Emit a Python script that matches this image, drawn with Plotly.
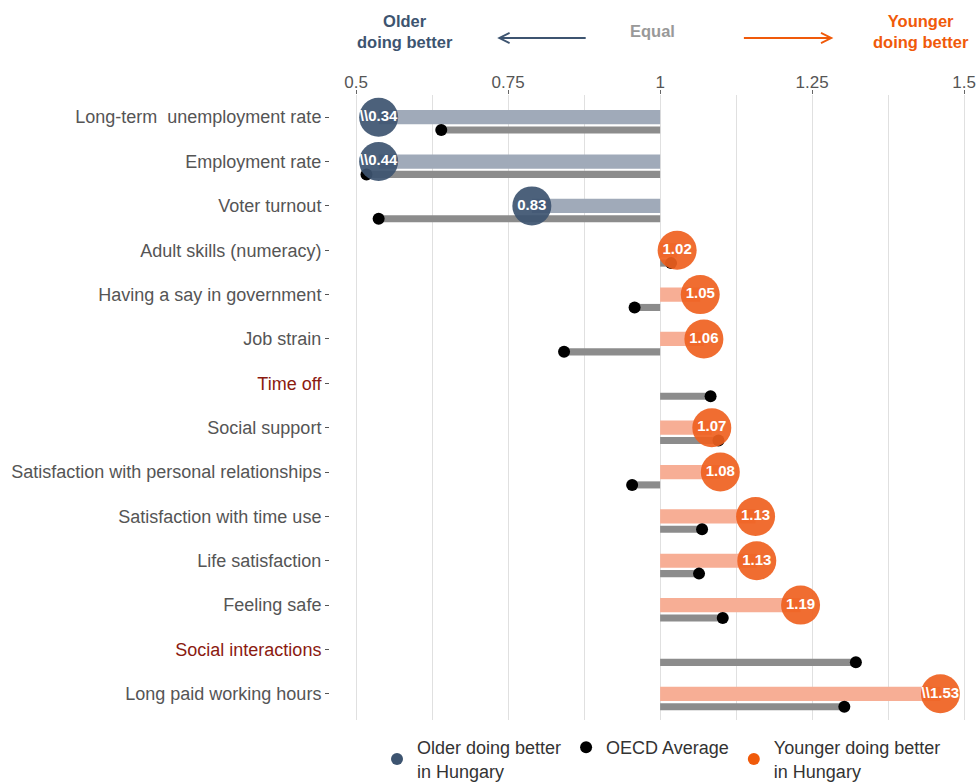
import plotly.graph_objects as go

categories = ["Long-term  unemployment rate", "Employment rate", "Voter turnout",
              "Adult skills (numeracy)", "Having a say in government", "Job strain",
              "Time off", "Social support", "Satisfaction with personal relationships",
              "Satisfaction with time use", "Life satisfaction", "Feeling safe",
              "Social interactions", "Long paid working hours"]
highlight = ["Time off", "Social interactions"]
hungary_pos = [0.537, 0.537, 0.789, 1.028, 1.066, 1.072, None, 1.085, 1.099,
               1.157, 1.159, 1.231, None, 1.461]
hungary_label = ["\\\\0.34", "\\\\0.44", "0.83", "1.02", "1.05", "1.06", "", "1.07",
                 "1.08", "1.13", "1.13", "1.19", "", "\\\\1.53"]
oecd = [0.640, 0.517, 0.537, 1.018, 0.958, 0.842, 1.083, 1.096, 0.954, 1.069,
        1.064, 1.103, 1.322, 1.303]
xticks = [0.5, 0.75, 1, 1.25, 1.5]
xticklabels = ["0.5", "0.75", "1", "1.25", "1.5"]

OLD = "#3D5470"
YOUNG = "#EF6120"
OLD_BAR = "#A0AAB9"
YOUNG_BAR = "#F7AE95"
FONT = "Liberation Sans, Arial, sans-serif"

W, H = 976, 782
ML, MR, MT, MB = 330, 4, 95, 62
PH = H - MT - MB

idx = list(range(len(categories)))
off = 0.29

fig = go.Figure()

# Hungary bars
hy = [i for i, p in zip(idx, hungary_pos) if p is not None]
hp = [p for p in hungary_pos if p is not None]
fig.add_trace(go.Bar(y=hy, x=[p - 1 for p in hp], base=1, orientation="h", width=0.32,
                     marker=dict(color=[OLD_BAR if p < 1 else YOUNG_BAR for p in hp], line_width=0),
                     showlegend=False, hoverinfo="skip"))
# OECD bars
fig.add_trace(go.Bar(y=[i + off for i in idx], x=[v - 1 for v in oecd], base=1, orientation="h",
                     width=0.16, marker=dict(color="#8C8C8C", line_width=0),
                     showlegend=False, hoverinfo="skip"))
# OECD dots
fig.add_trace(go.Scatter(y=[i + off for i in idx], x=oecd, mode="markers",
                         marker=dict(color="black", size=12), showlegend=False))
# Hungary circles
hl = [l for l, p in zip(hungary_label, hungary_pos) if p is not None]
fig.add_trace(go.Scatter(y=hy, x=hp, mode="markers+text", text=hl, textposition="middle center",
                         textfont=dict(color="white", size=15, family=FONT, weight="bold"),
                         marker=dict(color=[OLD if p < 1 else YOUNG for p in hp], size=39,
                                     opacity=0.92, line_width=0),
                         showlegend=False))

# legend entries
for name, col in [("Older doing better<br>in Hungary", OLD), ("OECD Average", "black"),
                  ("Younger doing better<br>in Hungary", "#F05A0A")]:
    fig.add_trace(go.Scatter(x=[None], y=[None], mode="markers", name=name,
                             marker=dict(color=col, size=18)))

ticktext = [f"<span style='color:#8B1A10'>{c}</span>" if c in highlight else c for c in categories]

fig.update_layout(
    width=W, height=H, plot_bgcolor="white", paper_bgcolor="white",
    margin=dict(l=ML, r=MR, t=MT, b=MB, autoexpand=False), barmode="overlay",
    font=dict(family=FONT, color="#555555", size=18),
    xaxis=dict(side="top", range=[0.457, 1.513], tickvals=xticks, ticktext=xticklabels,
               showgrid=True, gridcolor="#E0E0E0", gridwidth=1, zeroline=False,
               ticks="outside", ticklen=4, tickcolor="#666666", ticklabelstandoff=-5,
               ticklabeloverflow="allow",
               tickfont=dict(size=17, color="#555555"), automargin=False,
               minor=dict(dtick=0.125, tick0=0.5, showgrid=True, gridcolor="#E0E0E0", ticks="")),
    yaxis=dict(tickvals=idx, ticktext=ticktext, range=[13.59, -0.5], showgrid=False,
               zeroline=False, ticks="outside", ticklen=4, tickcolor="#555555",
               tickfont=dict(size=18, color="#555555"), automargin=False),
    legend=dict(orientation="h", xref="container", yref="container",
                x=377 / W, xanchor="left", y=23 / H, yanchor="middle",
                font=dict(size=18, color="#333333"), itemsizing="constant"),
)

def py(screen_y):
    return 1 + (MT - screen_y) / PH

fig.add_annotation(x=0.581, y=py(31.5), xref="x", yref="paper", yanchor="middle", showarrow=False,
                   text="<b>Older<br>doing better</b>", font=dict(size=16.5, color=OLD))
fig.add_annotation(x=0.988, y=py(31), xref="x", yref="paper", yanchor="middle", showarrow=False,
                   text="<b>Equal</b>", font=dict(size=16.5, color="#999999"))
fig.add_annotation(x=1.429, y=py(31.5), xref="x", yref="paper", yanchor="middle", showarrow=False,
                   text="<b>Younger<br>doing better</b>", font=dict(size=16.5, color="#F05A0A"))
fig.add_annotation(x=0.732, y=py(38), xref="x", yref="paper", ax=90, ay=0, text="",
                   showarrow=True, arrowhead=5, arrowwidth=2, arrowsize=1, arrowcolor=OLD)
fig.add_annotation(x=1.285, y=py(38), xref="x", yref="paper", ax=-91, ay=0, text="",
                   showarrow=True, arrowhead=5, arrowwidth=2, arrowsize=1, arrowcolor="#F05A0A")

fig.write_html("out.html", config={"displayModeBar": False},
               post_script="document.body.style.margin='0';document.body.style.overflow='hidden';")
